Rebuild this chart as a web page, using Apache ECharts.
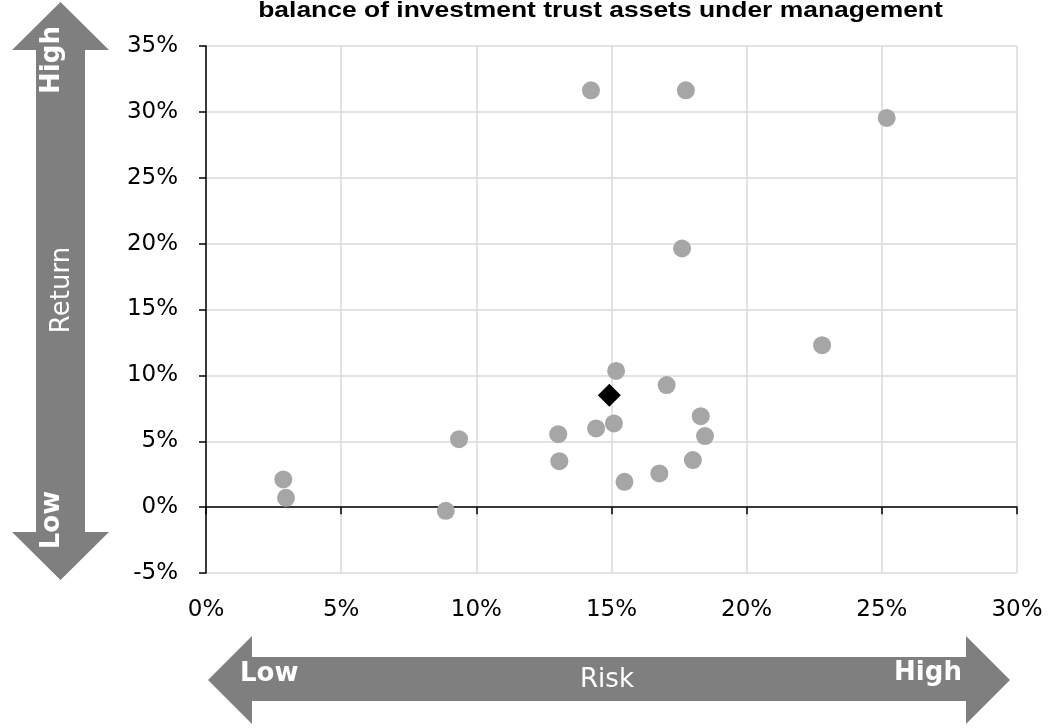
<!DOCTYPE html>
<html><head><meta charset="utf-8">
<script src="https://cdn.jsdelivr.net/npm/echarts@6/dist/echarts.min.js"></script>
<style>html,body{margin:0;padding:0;background:#fff}#c{width:1051px;height:728px}</style>
</head><body><div id="c"></div>
<script>
const titleText = 'balance of investment trust assets under management';
// Funds: risk (x, %) and return (y, %)
const fundRisk   = [2.86, 2.96, 8.87, 9.36, 13.03, 13.07, 14.43, 14.24, 17.75, 25.18, 17.61, 22.79, 15.17, 15.09, 15.48, 17.04, 16.77, 18.30, 18.46, 18.01];
const fundReturn = [2.10, 0.71, -0.28, 5.16, 5.54, 3.49, 5.97, 31.64, 31.64, 29.54, 19.63, 12.29, 10.34, 6.35, 1.92, 9.26, 2.56, 6.90, 5.39, 3.57];
// Highlighted point (diamond)
const markRisk   = [14.92];
const markReturn = [8.50];
// Tick labels
const xTickValues = [0, 5, 10, 15, 20, 25, 30];
const xTickLabels = ['0%', '5%', '10%', '15%', '20%', '25%', '30%'];
const yTickValues = [-5, 0, 5, 10, 15, 20, 25, 30, 35];
const yTickLabels = ['-5%', '0%', '5%', '10%', '15%', '20%', '25%', '30%', '35%'];
// Arrow captions
const returnCaption = 'Return', riskCaption = 'Risk', highCaption = 'High', lowCaption = 'Low';

const FONT = "'DejaVu Sans', Verdana, sans-serif";
const xFmt = v => { const i = xTickValues.indexOf(v); return i >= 0 ? xTickLabels[i] : ''; };
const yFmt = v => { const i = yTickValues.indexOf(v); return i >= 0 ? yTickLabels[i] : ''; };
const ARROW = '#7f7f7f';
const GRIDC = '#dadada';

const chart = echarts.init(document.getElementById('c'), null, {renderer: 'canvas'});
chart.setOption({
  animation: false,
  backgroundColor: '#fff',
  grid: {left: 206, right: 34, top: 46, bottom: 155, containLabel: false},
  xAxis: [
    {type: 'value', min: xTickValues[0], max: xTickValues[xTickValues.length - 1], interval: 5, position: 'bottom',
     axisLine: {show: false, onZero: false}, axisTick: {show: false},
     axisLabel: {fontSize: 23, margin: 26, color: '#000', fontFamily: FONT, formatter: xFmt},
     splitLine: {show: true, lineStyle: {color: GRIDC, width: 1.5}}},
    {type: 'value', min: xTickValues[0], max: xTickValues[xTickValues.length - 1], interval: 5, position: 'top', z: 1,
     axisLine: {show: true, onZero: true, lineStyle: {color: '#000', width: 1.5}},
     axisTick: {show: true, inside: true, length: 7, lineStyle: {color: '#000', width: 1.5}},
     axisLabel: {show: false}, splitLine: {show: false}}
  ],
  yAxis: {type: 'value', min: yTickValues[0], max: yTickValues[yTickValues.length - 1], interval: 5, z: 1,
    axisLine: {show: true, onZero: false, lineStyle: {color: '#000', width: 1.5}},
    axisTick: {show: true, length: 7, lineStyle: {color: '#000', width: 1.5}},
    axisLabel: {fontSize: 23, margin: 28, color: '#000', fontFamily: FONT, formatter: yFmt},
    splitLine: {show: true, lineStyle: {color: GRIDC, width: 1.5}}},
  series: [
    {type: 'scatter', xAxisIndex: 0, z: 3, symbol: 'circle', symbolSize: 18,
     itemStyle: {color: '#a6a6a6', opacity: 1},
     data: fundRisk.map((x, i) => [x, fundReturn[i]])},
    {type: 'scatter', xAxisIndex: 0, z: 4, symbol: 'diamond', symbolSize: 23,
     itemStyle: {color: '#000', opacity: 1},
     data: markRisk.map((x, i) => [x, markReturn[i]])}
  ],
  graphic: [
    {type: 'text', x: 600.5, y: 11, scaleX: 1.175, z: 10,
     style: {text: titleText, fontFamily: "'Liberation Sans', Arial, sans-serif", fontWeight: 'bold', fontSize: 22.5,
             fill: '#000', textAlign: 'center', textVerticalAlign: 'middle'}},
    {type: 'polygon', z: 5, shape: {points: [[60.5,2],[109,50],[85,50],[85,532],[109,532],[60.5,580],[12,532],[36,532],[36,50],[12,50]]},
     style: {fill: ARROW}},
    {type: 'polygon', z: 5, shape: {points: [[208,680],[252,636],[252,657],[966,657],[966,636],[1010,680],[966,724],[966,701],[252,701],[252,724]]},
     style: {fill: ARROW}},
    {type: 'text', x: 52, y: 60, rotation: Math.PI / 2, z: 6,
     style: {text: highCaption, fontFamily: FONT, fontWeight: 'bold', fontSize: 26, fill: '#fff', textAlign: 'center', textVerticalAlign: 'middle'}},
    {type: 'text', x: 52, y: 520, rotation: Math.PI / 2, z: 6,
     style: {text: lowCaption, fontFamily: FONT, fontWeight: 'bold', fontSize: 26, fill: '#fff', textAlign: 'center', textVerticalAlign: 'middle'}},
    {type: 'text', x: 62, y: 290, rotation: Math.PI / 2, z: 6,
     style: {text: returnCaption, fontFamily: FONT, fontSize: 26, fill: '#fff', textAlign: 'center', textVerticalAlign: 'middle'}},
    {type: 'text', x: 240, y: 674, z: 6,
     style: {text: lowCaption, fontFamily: FONT, fontWeight: 'bold', fontSize: 26, fill: '#fff', textAlign: 'left', textVerticalAlign: 'middle'}},
    {type: 'text', x: 928, y: 673, z: 6,
     style: {text: highCaption, fontFamily: FONT, fontWeight: 'bold', fontSize: 26, fill: '#fff', textAlign: 'center', textVerticalAlign: 'middle'}},
    {type: 'text', x: 607, y: 680, z: 6,
     style: {text: riskCaption, fontFamily: FONT, fontSize: 26, fill: '#fff', textAlign: 'center', textVerticalAlign: 'middle'}}
  ]
});
</script></body></html>
